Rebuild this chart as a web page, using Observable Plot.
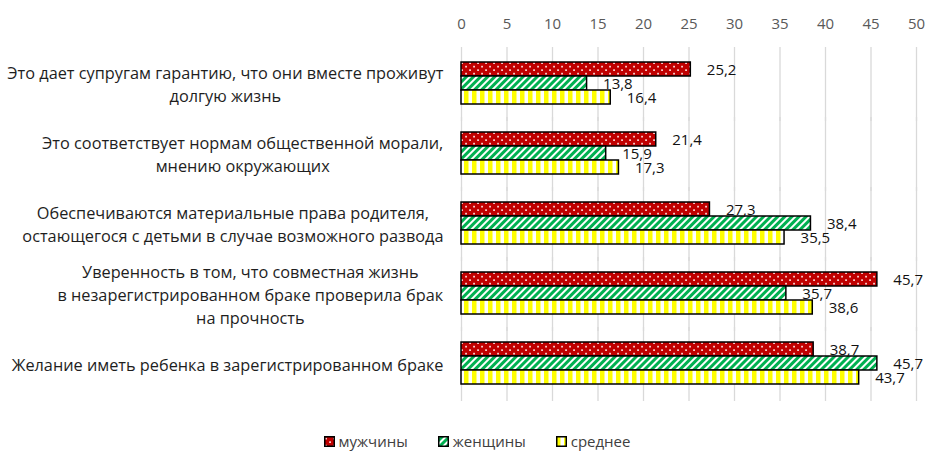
<!DOCTYPE html>
<html>
<head>
<meta charset="utf-8">
<script src="https://cdn.jsdelivr.net/npm/d3@7"></script>
<script src="https://cdn.jsdelivr.net/npm/@observablehq/plot@0.6"></script>
<style>
  html, body { margin: 0; padding: 0; background: #fff; }
  body { width: 926px; height: 454px; overflow: hidden; font-family: "Open Sans", sans-serif; }
  #legend { display: flex; justify-content: center; gap: 30px; margin-left: 28px; margin-top: 6px; font-size: 15px; color: #404040; }
  #legend .item { display: flex; align-items: center; gap: 4px; }
  #legend svg { display: block; }
</style>
</head>
<body>
<div id="chart"></div>
<div id="legend"></div>
<script>
const categories = [
  "Это дает супругам гарантию, что они вместе проживут\nдолгую жизнь",
  "Это соответствует нормам общественной морали,\nмнению окружающих",
  "Обеспечиваются материальные права родителя,\nостающегося с детьми в случае возможного развода",
  "Уверенность в том, что совместная жизнь\nв незарегистрированном браке проверила брак\nна прочность",
  "Желание иметь ребенка в зарегистрированном браке"
];
const series = ["мужчины", "женщины", "среднее"];
const men = [25.2, 21.4, 27.3, 45.7, 38.7];
const women = [13.8, 15.9, 38.4, 35.7, 45.7];
const average = [16.4, 17.3, 35.5, 38.6, 43.7];
const xTicks = [0, 5, 10, 15, 20, 25, 30, 35, 40, 45, 50];
const patternIds = ["pMen", "pWomen", "pAvg"];

const valuesBySeries = [men, women, average];
const data = categories.flatMap((c, i) =>
  series.map((s, j) => ({category: c, series: s, value: valuesBySeries[j][i]}))
);

const fmt = v => v.toFixed(1).replace(".", ",");

const plot = Plot.plot({
  width: 926,
  height: 425,
  marginLeft: 461,
  marginRight: 10,
  marginTop: 46,
  marginBottom: 25,
  style: {fontFamily: "Open Sans", fontSize: "15px", color: "#595959", background: "white"},
  x: {domain: [0, 50], ticks: xTicks, axis: "top", tickSize: 0, tickPadding: 33, label: null, tickFormat: d => String(d)},
  y: {domain: series, axis: null, padding: 0},
  fy: {domain: categories, axis: null, paddingInner: 0.37, paddingOuter: 0.18},
  color: {domain: series, range: patternIds.map(id => `url(#${id})`)},
  marks: [
    Plot.gridX({ticks: xTicks, stroke: "#d9d9d9", strokeOpacity: 1, strokeWidth: 1.3, insetTop: -14, insetBottom: -16}),
    Plot.barX(data, {x: "value", y: "series", fy: "category", fill: "series", stroke: "black", strokeWidth: 1.5}),
    Plot.text(data, {x: "value", y: "series", fy: "category", text: d => fmt(d.value), textAnchor: "start", dx: 16, dy: 1, fill: "#111", fontSize: 15}),
    Plot.text(categories, {fy: d => d, text: d => d, frameAnchor: "left", textAnchor: "end", dx: -18, fill: "#1e1e1e", fontSize: 16.3, lineHeight: 1.41, className: "cat-label"})
  ]
});

const ns = "http://www.w3.org/2000/svg";
const defs = document.createElementNS(ns, "defs");
defs.innerHTML = `
  <pattern id="pMen" width="8" height="7" patternUnits="userSpaceOnUse">
    <rect width="8" height="7" fill="#C00000"/>
    <rect x="1.2" y="1.8" width="1.7" height="1.7" fill="#ffe0e0"/>
    <rect x="5.2" y="5.3" width="1.7" height="1.7" fill="#ffe0e0"/>
  </pattern>
  <pattern id="pWomen" width="5" height="5" patternUnits="userSpaceOnUse" patternTransform="rotate(45)">
    <rect width="5" height="5" fill="#00B050"/>
    <rect width="2" height="5" fill="#ffffff"/>
  </pattern>
  <pattern id="pAvg" width="8" height="8" patternUnits="userSpaceOnUse">
    <rect width="8" height="8" fill="#FFFF00"/>
    <rect x="4.5" width="3.5" height="8" fill="#ffffff"/>
  </pattern>`;
plot.insertBefore(defs, plot.firstChild);
document.getElementById("chart").appendChild(plot);

// center the lines of each category label within its right-aligned block
plot.querySelectorAll(".cat-label text").forEach(t => {
  const w = t.getBBox().width;
  t.setAttribute("text-anchor", "middle");
  const tr = t.getAttribute("transform") || "";
  t.setAttribute("transform", `${tr} translate(${-w / 2},0)`);
});

// legend
const legend = document.getElementById("legend");
series.forEach((s, i) => {
  const item = document.createElement("div");
  item.className = "item";
  item.innerHTML = `<svg width="11" height="11"><rect x="0.75" y="0.75" width="9.5" height="9.5" fill="url(#${patternIds[i]})" stroke="black" stroke-width="1.5"/></svg><span>${s}</span>`;
  legend.appendChild(item);
});
</script>
</body>
</html>
